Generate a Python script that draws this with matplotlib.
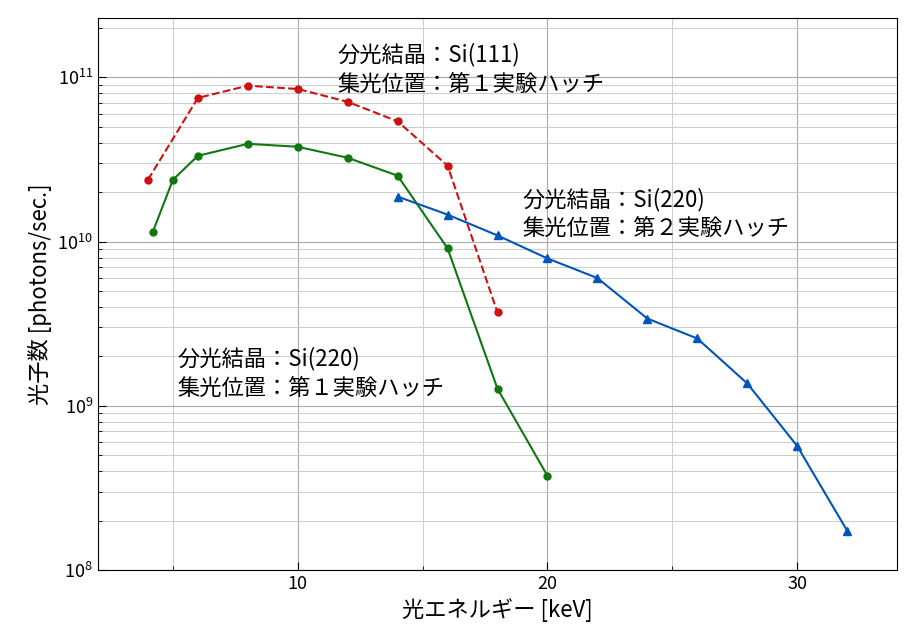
import matplotlib
matplotlib.use("Agg")
import matplotlib.pyplot as plt
from matplotlib.ticker import MultipleLocator, LogLocator, NullFormatter

plt.rcParams["font.family"] = "Noto Sans CJK JP"

red_x = [4, 6, 8, 10, 12, 14, 16, 18]
red_y = [2.38e10, 7.5e10, 8.9e10, 8.5e10, 7.1e10, 5.4e10, 2.9e10, 3.7e9]
green_x = [4.2, 5, 6, 8, 10, 12, 14, 16, 18, 20]
green_y = [1.15e10, 2.38e10, 3.33e10, 3.94e10, 3.78e10, 3.24e10, 2.52e10, 9.1e9, 1.27e9, 3.75e8]
blue_x = [14, 16, 18, 20, 22, 24, 26, 28, 30, 32]
blue_y = [1.88e10, 1.46e10, 1.09e10, 7.9e9, 6.0e9, 3.4e9, 2.57e9, 1.37e9, 5.7e8, 1.74e8]

fig = plt.figure(figsize=(9.17, 6.43), dpi=100)
ax = fig.add_axes([98/917, 1-570/643, (897-98)/917, (570-18)/643])
ax.set_yscale("log")
ax.set_xlim(2, 34)
ax.set_ylim(1e8, 2.3e11)

ax.plot(red_x, red_y, "--", color="#cc1111", marker="o", ms=5, lw=1.5)
ax.plot(green_x, green_y, "-", color="#117711", marker="o", ms=5, lw=1.5)
ax.plot(blue_x, blue_y, "-", color="#0055bb", marker="^", ms=6, lw=1.5)

ax.xaxis.set_major_locator(MultipleLocator(10))
ax.xaxis.set_minor_locator(MultipleLocator(5))
ax.yaxis.set_minor_locator(LogLocator(base=10, subs=range(2, 10), numticks=20))
ax.yaxis.set_minor_formatter(NullFormatter())
ax.grid(True, which="major", color="#aaaaaa", lw=0.8)
ax.grid(True, which="minor", color="#cccccc", lw=0.7)
ax.tick_params(which="both", direction="in", top=False, right=False, labelsize=13)
ax.tick_params(which="major", length=6)
ax.tick_params(which="minor", length=3)

ax.set_xlabel("光エネルギー [keV]", fontsize=16)
ax.set_ylabel("光子数 [photons/sec.]", fontsize=16)

kw = dict(fontsize=16, va="baseline", linespacing=1.35)
ax.text(11.6, 8.3e10, "分光結晶：Si(111)\n集光位置：第１実験ハッチ", **kw)
ax.text(19.0, 1.09e10, "分光結晶：Si(220)\n集光位置：第２実験ハッチ", **kw)
ax.text(5.2, 1.17e9, "分光結晶：Si(220)\n集光位置：第１実験ハッチ", **kw)

fig.savefig("out.png", dpi=100)
